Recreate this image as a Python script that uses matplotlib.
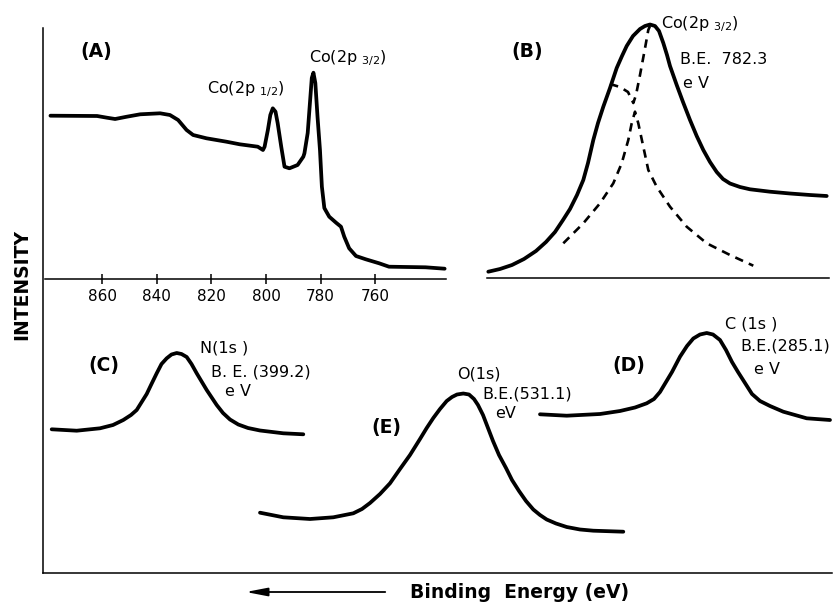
import numpy as np
import matplotlib.pyplot as plt

W, H = 836, 605

# (A) Co 2p region, binding energy (eV) vs intensity (arb.)
be_a = [879.0, 861.9, 858.3, 855.3, 851.0, 846.1, 838.8, 835.2, 832.2, 829.1,
        826.7, 821.8, 814.5, 809.6, 803.0, 801.1, 800.5, 799.3, 798.4, 797.5,
        796.5, 795.7, 794.4, 793.2, 791.4, 788.4, 786.3, 785.9, 784.7, 783.8,
        783.2, 782.6, 781.9, 781.1, 780.2, 779.5, 778.6, 778.2, 776.8, 774.3,
        772.5, 771.3, 769.5, 767.0, 763.4, 758.5, 754.9, 741.5, 734.5]
int_a = [163.3, 163.0, 161.3, 160.0, 162.3, 164.7, 165.7, 164.0, 159.0, 149.0,
         144.0, 140.7, 137.3, 134.7, 132.3, 129.0, 132.3, 149.0, 164.0, 170.7,
         167.3, 155.7, 132.3, 112.3, 110.7, 114.0, 122.3, 125.7, 146.0, 179.0,
         201.0, 206.3, 196.0, 162.3, 129.0, 92.3, 71.0, 69.0, 62.3, 56.3,
         52.3, 42.3, 30.7, 23.0, 19.7, 15.7, 12.3, 11.7, 10.3]
ticks_a = [860, 840, 820, 800, 780, 760]

# (B) Co 2p3/2 envelope and its two components (relative units)
x_b = [1.3, 13, 25, 37, 49, 59, 68, 76, 83, 90, 96.3, 101, 106.3, 111, 116.3,
       123, 129.7, 135, 139.7, 146, 153, 158, 163, 168, 172, 176.3, 180, 183,
       189.7, 196, 203, 209.7, 216.3, 223, 229.7, 236, 243, 253, 263, 283, 303,
       323, 339.7]
y_b = [6.3, 9, 13, 19, 27, 36, 46, 58, 69, 83, 98, 115, 138, 155, 171.3,
       190, 210, 222, 232, 242, 249, 252, 253.5, 252, 247, 235, 223, 212,
       193, 176, 158, 142, 128, 116, 106, 99, 94.5, 91, 88.7, 86.3, 84.5,
       83, 82]
x_b1 = [123, 133, 141, 146.3, 149, 153, 158, 161.3, 163]
y_b1 = [194, 191, 186, 175, 183, 203, 229.7, 248, 252]
x_b2 = [76.3, 96.3, 113, 126.3, 134.7, 141.3, 144.7, 148, 151.3, 156.3, 161.3,
        169.7, 183, 199.7, 219.7, 243, 266.3]
y_b2 = [34.7, 54.7, 74.7, 94.7, 114.7, 138, 154.7, 166.3, 154.7, 131.3, 108,
        91.3, 71.3, 51.3, 34.7, 23, 12.3]

# (C) N 1s
x_c = [8.7, 33.7, 57, 70, 80.3, 88, 93.7, 103.7, 108, 113.7, 118.5, 123.7,
       128.5, 133.7, 138.5, 143.7, 148.5, 153.7, 163.7, 173.7, 180, 187, 195.3,
       205, 217, 240.3, 260.3]
y_c = [143.7, 142.3, 144.7, 148, 153, 158, 163, 179, 188, 199.7, 209, 214.7,
       218.5, 220, 219, 216, 209, 199.7, 183, 168, 160, 153.5, 148.5, 145,
       142.5, 139.7, 138.7]

# (E) O 1s
x_e = [217, 240.3, 267, 290.3, 310.3, 319, 327, 337, 347, 357, 367, 377, 383.7,
       390.3, 397, 403.7, 409, 414, 420.3, 426, 431, 435, 440, 445, 450, 456,
       463, 469, 476, 483, 490.3, 497, 503.7, 513, 523.7, 537, 550.3, 580.3]
y_e = [60.3, 55.7, 54, 55.7, 59.7, 64, 70, 79, 89.7, 104, 118, 134, 145,
       155, 164, 172, 176, 178.5, 179.5, 178.5, 174, 168, 158, 145, 132, 118,
       105, 93, 82, 72, 63.5, 58, 53.5, 49.5, 46, 43.5, 42.3, 41.3]

# (D) C 1s
x_d = [497, 523.7, 557, 577, 592, 603.7, 611, 617, 623, 629, 637, 644, 650.3,
       657, 663.7, 670, 677, 683, 689, 695, 702, 709, 717, 727, 740.3, 763.7, 787]
y_d = [158.7, 157.3, 159, 162, 165.5, 169.7, 174, 181, 191, 201, 216.3, 227,
       234.5, 238.5, 240, 238.5, 233, 223, 211, 201, 190, 179, 172, 167,
       161.3, 154.7, 153]


def box(x0, y0, x1, y1):
    return [x0 / W, 1 - y1 / H, (x1 - x0) / W, (y1 - y0) / H]


def txt(x, y, s, **kw):
    kw.setdefault('ha', 'left')
    kw.setdefault('va', 'center')
    fig.text(x / W, 1 - y / H, s, **kw)


fig = plt.figure(figsize=(W / 100, H / 100), dpi=100)

lw = 2.7
trait = dict(color='black', lw=lw, solid_joinstyle='round', solid_capstyle='round', clip_on=False)
tirets = dict(color='black', lw=1.9, ls=(0, (3.2, 2.4)), clip_on=False)

# cadre general + spectres C, D, E
frame = fig.add_axes(box(43, 28, 832, 573))
frame.set_xlim(0, 789)
frame.set_ylim(0, 545)
frame.patch.set_alpha(0)
for s in ['top', 'right']:
    frame.spines[s].set_visible(False)
frame.spines['left'].set_linewidth(1.1)
frame.spines['bottom'].set_linewidth(1.1)
frame.set_xticks([])
frame.set_yticks([])
for xs, ys in [(x_c, y_c), (x_e, y_e), (x_d, y_d)]:
    frame.plot(xs, ys, **trait)

# panneau A
axa = fig.add_axes(box(45, 20, 446, 279))
axa.patch.set_alpha(0)
axa.set_xlim(881, 734)
axa.set_ylim(0, 259)
for s in ['top', 'right', 'left']:
    axa.spines[s].set_visible(False)
axa.spines['bottom'].set_linewidth(1.1)
axa.plot(be_a, int_a, **trait)
axa.set_xticks(ticks_a)
axa.set_yticks([])
axa.tick_params(axis='x', direction='inout', length=7, width=1.1, labelsize=11, pad=4)

# panneau B
axb = fig.add_axes(box(487, 15, 829, 278))
axb.patch.set_alpha(0)
axb.set_xlim(0, 342)
axb.set_ylim(0, 263)
for s in ['top', 'right', 'left']:
    axb.spines[s].set_visible(False)
axb.spines['bottom'].set_linewidth(1.1)
axb.set_xticks([])
axb.set_yticks([])
axb.plot(x_b, y_b, **trait)
axb.plot(x_b1, y_b1, **tirets)
axb.plot(x_b2, y_b2, **tirets)

# textes
bold = dict(fontsize=13.5, fontweight='bold', ha='center')
txt(96, 52, '(A)', **bold)
txt(527, 52, '(B)', **bold)
txt(104, 365, '(C)', **bold)
txt(629, 365, '(D)', **bold)
txt(386, 428, '(E)', **bold)

fs = 11.5
txt(207, 89, r'Co(2p $_{1/2}$)', fontsize=fs)
txt(309, 58, r'Co(2p $_{3/2}$)', fontsize=fs)
txt(661, 24, r'Co(2p $_{3/2}$)', fontsize=fs)
txt(680, 59, 'B.E.  782.3', fontsize=fs)
txt(683, 83, 'e V', fontsize=fs)
txt(200, 348, 'N(1s )', fontsize=fs)
txt(211, 372, 'B. E. (399.2)', fontsize=fs)
txt(225, 391, 'e V', fontsize=fs)
txt(457, 374, 'O(1s)', fontsize=fs)
txt(482, 394, 'B.E.(531.1)', fontsize=fs)
txt(495, 414, 'eV', fontsize=fs)
txt(725, 324, 'C (1s )', fontsize=fs)
txt(740, 346, 'B.E.(285.1)', fontsize=fs)
txt(754, 369, 'e V', fontsize=fs)

txt(22, 284, 'INTENSITY', fontsize=13.5, fontweight='bold', rotation=90, ha='center')
txt(410, 592, 'Binding  Energy (eV)', fontsize=13.5, fontweight='bold')
fig.add_artist(plt.Annotation('', xy=(243 / W, 1 - 592 / H), xytext=(388 / W, 1 - 592 / H),
                              xycoords='figure fraction', textcoords='figure fraction',
                              arrowprops=dict(arrowstyle='-|>,head_length=1.3,head_width=0.25',
                                              color='black', lw=1.3)))

plt.savefig('out.png', dpi=100)
